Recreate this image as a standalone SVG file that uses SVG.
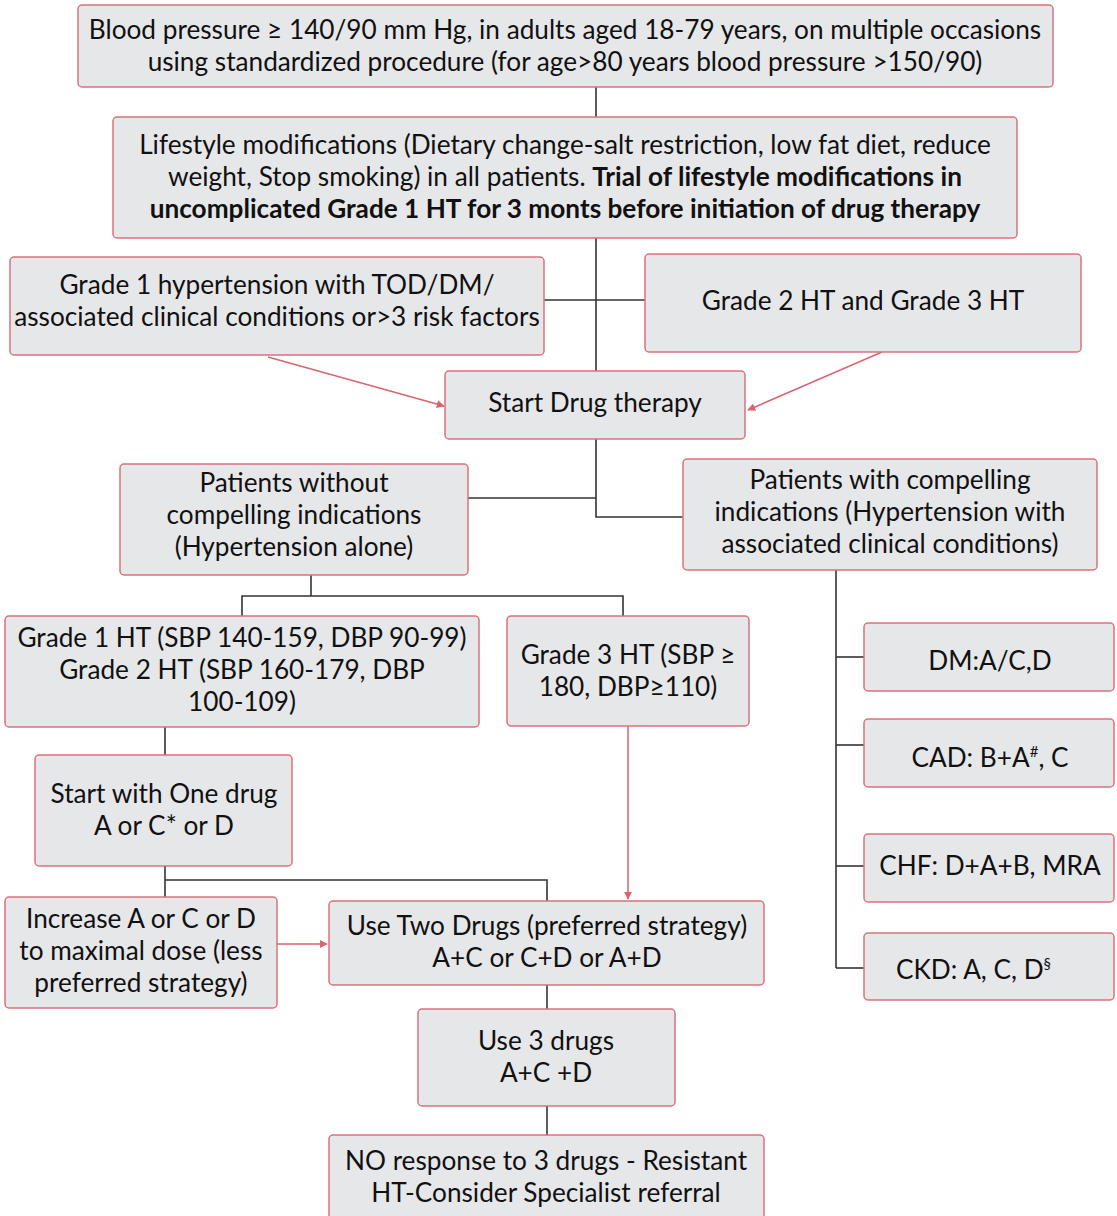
<svg xmlns="http://www.w3.org/2000/svg" width="1117" height="1216" viewBox="0 0 1117 1216">
<defs>
<style>
.box{fill:#e6e7e9;stroke:#d9737d;stroke-width:1.5}
.t{font-family:Lato,"Open Sans","Liberation Sans",sans-serif;font-size:26.2px;fill:#111;text-anchor:middle}
.b{font-weight:bold}
.ln{stroke:#333;stroke-width:1.6;fill:none}
.ar{stroke:#d9646f;stroke-width:1.5;fill:none;marker-end:url(#ah)}
.sup{font-size:15px}
</style>
<marker id="ah" viewBox="0 0 10 10" refX="9" refY="5" markerWidth="8" markerHeight="8" markerUnits="userSpaceOnUse" orient="auto">
<path d="M0,0 L10,5 L0,10 z" fill="#d9646f"/>
</marker>
</defs>
<rect width="1117" height="1216" fill="#fff"/>
<g id="connectors">
<line class="ln" x1="596" y1="87" x2="596" y2="117"/>
<line class="ln" x1="596" y1="238" x2="596" y2="371"/>
<line class="ln" x1="544" y1="300" x2="645" y2="300"/>
<line class="ar" x1="268" y1="357" x2="444" y2="406"/>
<line class="ar" x1="882" y1="352" x2="748" y2="410"/>
<polyline class="ln" points="596,439 596,517 683,517"/>
<line class="ln" x1="468" y1="498" x2="596" y2="498"/>
<polyline class="ln" points="311,575 311,596"/>
<polyline class="ln" points="242,616 242,596 623,596 623,616"/>
<line class="ln" x1="165" y1="727" x2="165" y2="755"/>
<line class="ln" x1="165" y1="866" x2="165" y2="897"/>
<polyline class="ln" points="165,880 547,880 547,901"/>
<line class="ar" x1="628" y1="726" x2="628" y2="899"/>
<line class="ar" x1="277" y1="944" x2="327" y2="944"/>
<line class="ln" x1="547" y1="985" x2="547" y2="1009"/>
<line class="ln" x1="547" y1="1106" x2="547" y2="1135"/>
<line class="ln" x1="836" y1="570" x2="836" y2="968"/>
<line class="ln" x1="836" y1="657" x2="864" y2="657"/>
<line class="ln" x1="836" y1="745" x2="864" y2="745"/>
<line class="ln" x1="836" y1="866" x2="864" y2="866"/>
<line class="ln" x1="836" y1="968" x2="864" y2="968"/>
</g>
<g id="n1"><rect class="box" x="78" y="5" width="975" height="82" rx="4"/>
<text class="t" x="565" y="39">Blood pressure ≥ 140/90 mm Hg, in adults aged 18-79 years, on multiple occasions</text>
<text class="t" x="565" y="71">using standardized procedure (for age&gt;80 years blood pressure &gt;150/90)</text></g>
<g id="n2"><rect class="box" x="113" y="117" width="904" height="121" rx="4"/>
<text class="t" x="565" y="154">Lifestyle modifications (Dietary change-salt restriction, low fat diet, reduce</text>
<text class="t" x="565" y="186">weight, Stop smoking) in all patients. <tspan class="b">Trial of lifestyle modifications in</tspan></text>
<text class="t b" x="565" y="218">uncomplicated Grade 1 HT for 3 monts before initiation of drug therapy</text></g>
<g id="n3"><rect class="box" x="10" y="257" width="534" height="98" rx="4"/>
<text class="t" x="277" y="294">Grade 1 hypertension with TOD/DM/</text>
<text class="t" x="277" y="326">associated clinical conditions or&gt;3 risk factors</text></g>
<g id="n4"><rect class="box" x="645" y="254" width="436" height="98" rx="4"/>
<text class="t" x="863" y="310">Grade 2 HT and Grade 3 HT</text></g>
<g id="n5"><rect class="box" x="445" y="371" width="300" height="68" rx="4"/>
<text class="t" x="595" y="412">Start Drug therapy</text></g>
<g id="n6"><rect class="box" x="120" y="464" width="348" height="111" rx="4"/>
<text class="t" x="294" y="492">Patients without</text>
<text class="t" x="294" y="524">compelling indications</text>
<text class="t" x="294" y="556">(Hypertension alone)</text></g>
<g id="n7"><rect class="box" x="683" y="459" width="414" height="111" rx="4"/>
<text class="t" x="890" y="489">Patients with compelling</text>
<text class="t" x="890" y="521">indications (Hypertension with</text>
<text class="t" x="890" y="553">associated clinical conditions)</text></g>
<g id="n8"><rect class="box" x="5" y="616" width="474" height="111" rx="4"/>
<text class="t" x="242" y="647">Grade 1 HT (SBP 140-159, DBP 90-99)</text>
<text class="t" x="242" y="679">Grade 2 HT (SBP 160-179, DBP</text>
<text class="t" x="242" y="711">100-109)</text></g>
<g id="n9"><rect class="box" x="507" y="616" width="242" height="110" rx="4"/>
<text class="t" x="628" y="664">Grade 3 HT (SBP ≥</text>
<text class="t" x="628" y="696">180, DBP≥110)</text></g>
<g id="n10"><rect class="box" x="35" y="755" width="257" height="111" rx="4"/>
<text class="t" x="164" y="803">Start with One drug</text>
<text class="t" x="164" y="835">A or C* or D</text></g>
<g id="n11"><rect class="box" x="5" y="897" width="272" height="111" rx="4"/>
<text class="t" x="141" y="928">Increase A or C or D</text>
<text class="t" x="141" y="960">to maximal dose (less</text>
<text class="t" x="141" y="992">preferred strategy)</text></g>
<g id="n12"><rect class="box" x="329" y="901" width="435" height="84" rx="4"/>
<text class="t" x="547" y="935">Use Two Drugs (preferred strategy)</text>
<text class="t" x="547" y="967">A+C or C+D or A+D</text></g>
<g id="n13"><rect class="box" x="418" y="1009" width="257" height="97" rx="4"/>
<text class="t" x="546" y="1050">Use 3 drugs</text>
<text class="t" x="546" y="1082">A+C +D</text></g>
<g id="n14"><rect class="box" x="329" y="1135" width="435" height="100" rx="4"/>
<text class="t" x="546" y="1170">NO response to 3 drugs - Resistant</text>
<text class="t" x="546" y="1202">HT-Consider Specialist referral</text></g>
<g id="n15"><rect class="box" x="864" y="623" width="250" height="68" rx="4"/>
<text class="t" x="990" y="670">DM:A/C,D</text></g>
<g id="n16"><rect class="box" x="864" y="719" width="250" height="68" rx="4"/>
<text class="t" x="990" y="767">CAD: B+A<tspan class="sup" dy="-10">#</tspan><tspan dy="10">, C</tspan></text></g>
<g id="n17"><rect class="box" x="864" y="834" width="250" height="68" rx="4"/>
<text class="t" x="990" y="875">CHF: D+A+B, MRA</text></g>
<g id="n18"><rect class="box" x="864" y="933" width="250" height="67" rx="4"/>
<text class="t" x="896" y="979" style="text-anchor:start">CKD: A, C, D<tspan class="sup" dy="-10">§</tspan></text></g>
</svg>
